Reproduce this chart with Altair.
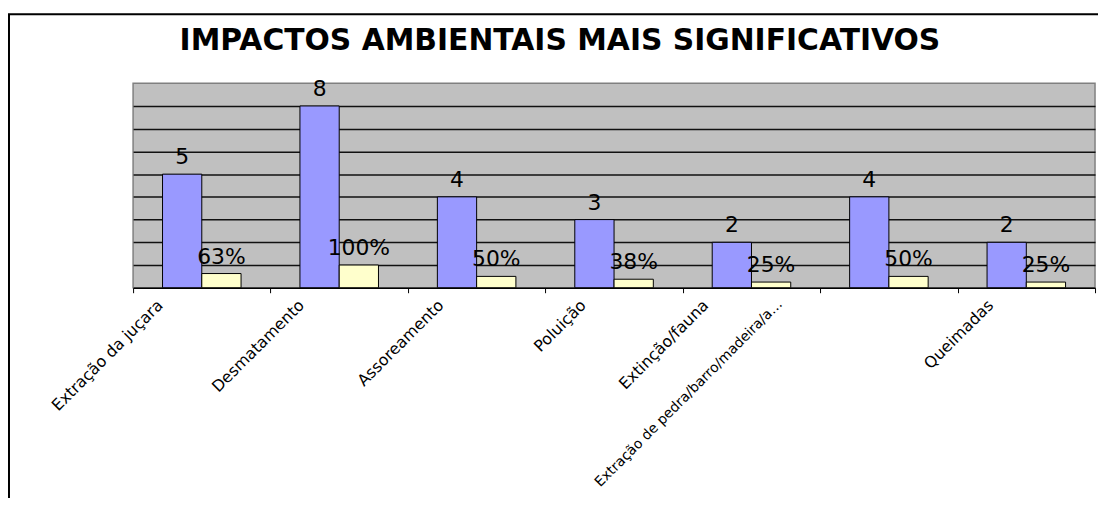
import altair as alt
import pandas as pd

TITLE = "IMPACTOS AMBIENTAIS MAIS SIGNIFICATIVOS"

categories = [
    "Extração da juçara",
    "Desmatamento",
    "Assoreamento",
    "Poluição",
    "Extinção/fauna",
    "Extração de pedra/barro/madeira/areia",
    "Queimadas",
]
counts = [5, 8, 4, 3, 2, 4, 2]
shares = [0.625, 1.0, 0.5, 0.375, 0.25, 0.5, 0.25]
series = ["Quantidade", "Percentual"]
colors = ["#9999FF", "#FFFFCC"]
label_offsets = [-48, -44, -42, -37, -52, -115, -42]

rows = []
for c, n, s in zip(categories, counts, shares):
    rows.append({"categoria": c, "serie": series[0], "valor": n, "rotulo": str(n)})
    rows.append({"categoria": c, "serie": series[1], "valor": s,
                 "rotulo": f"{int(s * 100 + 0.5)}%"})
df = pd.DataFrame(rows)

PLOT_W, PLOT_H = 969, 206

offset_cond = {
    "condition": [
        {"test": f"datum.value == '{c}'", "value": o}
        for c, o in zip(categories, label_offsets)
    ],
    "value": -40,
}
size_cond = {
    "condition": {"test": f"datum.value == '{categories[5]}'", "value": 14},
    "value": 16,
}

x = alt.X(
    "categoria:N",
    sort=categories,
    scale=alt.Scale(paddingInner=0, paddingOuter=0),
    axis=alt.Axis(
        title=None,
        labelAngle=-45,
        labelAlign="right",
        labelBaseline="top",
        labelFont="DejaVu Sans",
        labelFontSize=size_cond,
        labelColor="black",
        labelPadding=4,
        labelOffset=offset_cond,
        labelLimit=262,
        labelOverlap=False,
        tickBand="extent",
        tickSize=5,
        tickColor="black",
        tickWidth=1,
        domainColor="black",
        domainWidth=1.5,
        grid=False,
    ),
)
xo = alt.XOffset("serie:N", sort=series,
                 scale=alt.Scale(paddingInner=0, paddingOuter=0.75))
y = alt.Y(
    "valor:Q",
    scale=alt.Scale(domain=[0, 9], nice=False, zero=True),
    axis=alt.Axis(title=None, labels=False, ticks=False, domain=False,
                  grid=True, values=list(range(1, 9)),
                  gridColor="#111111", gridWidth=1.5),
)

base = alt.Chart(df)

bars = base.mark_bar(stroke="black", strokeWidth=1).encode(
    x=x, xOffset=xo, y=y,
    color=alt.Color("serie:N", scale=alt.Scale(domain=series, range=colors),
                    legend=None),
)

texts = base.mark_text(baseline="alphabetic", dy=-10, font="DejaVu Sans",
                       fontSize=22, color="black").encode(
    x=x, xOffset=xo, y=y, text="rotulo:N"
)

frame = alt.Chart(pd.DataFrame({"k": [0]})).mark_rect(
    filled=False, stroke="black", strokeWidth=2
).encode(
    x=alt.value(-125), x2=alt.value(PLOT_W + 20),
    y=alt.value(-69.5), y2=alt.value(PLOT_H + 300),
)

title = alt.Chart(pd.DataFrame({"t": [TITLE]})).mark_text(
    font="DejaVu Sans", fontSize=30, fontWeight="bold", align="center",
    baseline="alphabetic", color="black"
).encode(text="t:N", x=alt.value(430), y=alt.value(-33))

chart = (
    alt.layer(frame, bars, texts, title)
    .properties(
        width=PLOT_W,
        height=PLOT_H,
        autosize=alt.AutoSizeParams(type="none"),
        padding={"left": 126, "top": 74, "right": 3, "bottom": 210},
    )
    .configure(background="white")
    .configure_view(fill="#C0C0C0", stroke="#808080", strokeWidth=1.5)
)

chart.save("out.html", embed_options={"renderer": "svg", "actions": False})
